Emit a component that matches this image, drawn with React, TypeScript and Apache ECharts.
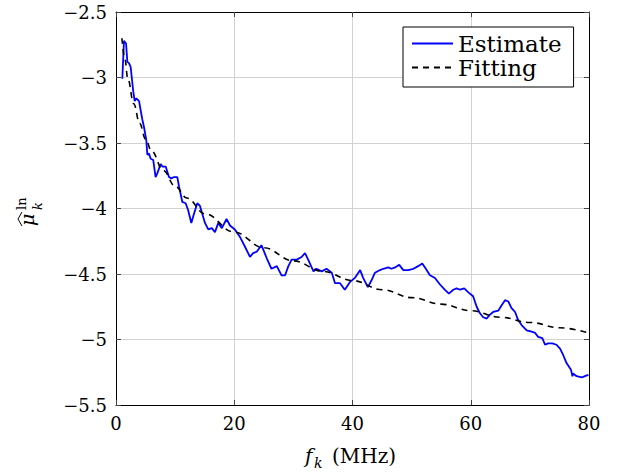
import React, { useEffect, useRef } from 'react';
import * as echarts from 'echarts';

const SERIF = '"DejaVu Serif", serif';

const estimateX = [
  1.07, 1.35, 1.7, 1.92, 2.2, 2.48, 2.76, 2.93, 3.16, 3.44, 3.9, 4.17, 4.45, 4.74, 5.13, 5.3, 5.58, 5.86, 6.3, 6.7,
  7.0, 7.55, 7.84, 8.4, 8.96, 9.36, 9.8, 10.37, 10.65, 11.22, 11.78, 12.18, 12.74, 13.19, 13.75, 14.2, 15.05, 15.6,
  16.2, 16.74, 17.3, 17.9, 18.7, 19.28, 20.1, 21.0, 21.8, 22.66, 23.2, 23.8, 24.6, 25.5, 26.3, 27.2, 28.0, 28.6,
  29.15, 29.7, 30.56, 31.4, 31.97, 32.5, 33.4, 33.9, 34.8, 35.6, 36.5, 37.04, 37.9, 38.7, 39.6, 40.4, 41.3, 41.8,
  42.6, 43.2, 43.8, 44.65, 45.2, 46.05, 46.6, 47.2, 47.9, 48.6, 49.4, 50.3, 51.1, 51.8, 52.4, 53.1, 53.95, 54.8,
  55.6, 56.3, 57.05, 57.6, 58.2, 58.9, 59.6, 60.4, 61.0, 61.56, 62.1, 62.7, 63.25, 63.8, 64.65, 65.2, 65.8, 66.35,
  66.9, 67.5, 68.0, 68.6, 69.46, 70.3, 70.9, 71.4, 72.1, 72.56, 73.1, 73.8, 74.5, 75.1, 75.65, 76.2, 76.95, 77.2,
  77.3, 77.9, 78.8, 79.3, 79.9,
];
const estimateY = [
  -3.01, -2.72, -2.74, -2.88, -2.89, -2.92, -3.04, -3.11, -3.18, -3.16, -3.18, -3.25, -3.32, -3.38, -3.48, -3.59,
  -3.58, -3.62, -3.63, -3.76, -3.73, -3.66, -3.68, -3.68, -3.76, -3.77, -3.76, -3.76, -3.83, -3.95, -3.96, -4.01,
  -4.11, -4.04, -3.96, -3.98, -4.11, -4.16, -4.15, -4.18, -4.11, -4.15, -4.08, -4.13, -4.16, -4.22, -4.29, -4.37,
  -4.34, -4.33, -4.28, -4.38, -4.46, -4.44, -4.51, -4.51, -4.44, -4.39, -4.39, -4.37, -4.34, -4.39, -4.48, -4.46,
  -4.48, -4.46, -4.49, -4.57, -4.57, -4.62, -4.56, -4.53, -4.47, -4.53, -4.6, -4.55, -4.49, -4.47, -4.46, -4.45,
  -4.46, -4.45, -4.43, -4.47, -4.47, -4.46, -4.44, -4.42, -4.46, -4.51, -4.53, -4.58, -4.62, -4.65, -4.62, -4.61,
  -4.62, -4.61, -4.64, -4.67, -4.75, -4.8, -4.83, -4.84, -4.81, -4.79, -4.78, -4.74, -4.7, -4.71, -4.76, -4.79,
  -4.85, -4.89, -4.93, -4.94, -4.95, -4.98, -4.99, -5.04, -5.03, -5.03, -5.04, -5.07, -5.12, -5.18, -5.23, -5.28,
  -5.26, -5.28, -5.29, -5.28, -5.27,
];

const fitX = [1, 1.5, 2, 3, 4, 5, 6, 8, 10, 12, 15, 20, 25, 30, 35, 40, 45, 50, 55, 60, 65, 70, 75, 80];
const fitY = [
  -2.7, -2.86, -3.01, -3.2, -3.35, -3.47, -3.56, -3.71, -3.83, -3.92, -4.04, -4.18, -4.3, -4.4, -4.48, -4.55,
  -4.62, -4.68, -4.73, -4.78, -4.83, -4.87, -4.91, -4.95,
];

const xTicks = { min: 0, max: 80, interval: 20 };
const yTicks = { min: -5.5, max: -2.5, interval: 0.5 };
const seriesNames = ['Estimate', 'Fitting'];

export default function App() {
  const ref = useRef<HTMLDivElement>(null);
  useEffect(() => {
    const chart = echarts.init(ref.current!, null, { renderer: 'svg' });
    const minus = (v: number) => String(v).replace('-', '\u2212');
    const frameLine = { show: true, onZero: false, lineStyle: { color: '#000', width: 1 } };
    const tick = { show: true, inside: true, length: 5, lineStyle: { color: '#444', width: 1 } };
    const grid = { show: true, lineStyle: { color: '#d2d2d2', width: 1 } };
    const t = (text: string, x: number, y: number, font: string) => ({
      type: 'text',
      style: { text, x, y, font, fill: '#000', verticalAlign: 'middle', align: 'left' },
    });
    chart.setOption({
      animation: false,
      backgroundColor: '#fff',
      grid: { left: 116, right: 32, top: 12, bottom: 70 },
      xAxis: [
        {
          type: 'value', ...xTicks, position: 'bottom',
          axisLine: frameLine, axisTick: tick, splitLine: grid,
          axisLabel: { formatter: minus, fontFamily: SERIF, fontSize: 18, color: '#000', margin: 9 },
        },
        {
          type: 'value', ...xTicks, position: 'top',
          axisLine: frameLine, axisTick: tick, splitLine: { show: false }, axisLabel: { show: false },
        },
      ],
      yAxis: [
        {
          type: 'value', ...yTicks, position: 'left',
          axisLine: frameLine, axisTick: tick, splitLine: grid,
          axisLabel: { formatter: minus, fontFamily: SERIF, fontSize: 18, color: '#000', margin: 9 },
        },
        {
          type: 'value', ...yTicks, position: 'right',
          axisLine: frameLine, axisTick: tick, splitLine: { show: false }, axisLabel: { show: false },
        },
      ],
      legend: {
        orient: 'vertical', left: 403, top: 27,
        itemWidth: 41, itemHeight: 10, itemGap: 1,
        padding: [5, 12, 8, 8],
        borderColor: '#000', borderWidth: 1, borderRadius: 0, backgroundColor: '#fff',
        itemStyle: { opacity: 0 },
        textStyle: { fontFamily: SERIF, fontSize: 23, color: '#000', lineHeight: 21 },
        data: seriesNames,
      },
      series: [
        {
          name: seriesNames[0], type: 'line', symbol: 'none',
          data: estimateX.map((x, i) => [x, estimateY[i]]),
          lineStyle: { color: '#0000ff', width: 1.8 }, itemStyle: { color: '#0000ff' }, z: 3,
        },
        {
          name: seriesNames[1], type: 'line', symbol: 'none', smooth: 0.4, smoothMonotone: 'x',
          data: fitX.map((x, i) => [x, fitY[i]]),
          lineStyle: { color: '#000', width: 1.6, type: [6, 5] }, itemStyle: { color: '#000' }, z: 4,
        },
      ],
      graphic: [
        {
          type: 'group', x: 305, y: 456,
          children: [
            t('f', 0, 0, `italic 20px ${SERIF}`),
            t('k', 9, 7, `italic 14px ${SERIF}`),
            t('(MHz)', 27, 0, `20px ${SERIF}`),
          ],
        },
        {
          type: 'group', x: 34, y: 226, rotation: Math.PI / 2,
          children: [
            t('μ', 0, -6.6, `italic 19px ${SERIF}`),
            { type: 'polyline', shape: { points: [[0, -12], [7, -16], [14, -12]] }, style: { stroke: '#000', lineWidth: 1, fill: 'none' } },
            t('ln', 16, -12.5, `13px ${SERIF}`),
            t('k', 16, 3.5, `italic 13px ${SERIF}`),
          ],
        },
      ],
    });
    return () => chart.dispose();
  }, []);
  return <div ref={ref} style={{ position: 'fixed', left: 0, top: 0, width: 621, height: 475 }} />;
}
